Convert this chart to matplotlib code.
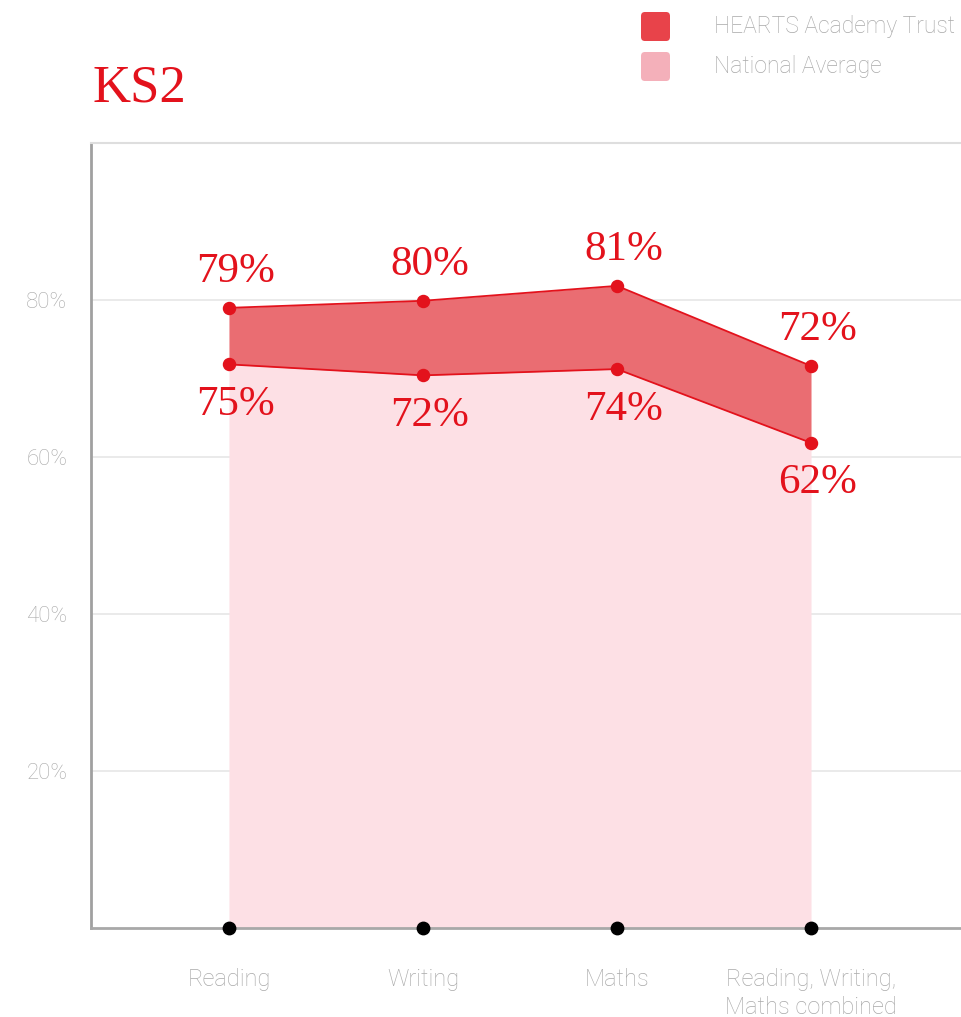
import matplotlib.pyplot as plt
from matplotlib.patches import FancyBboxPatch

# -----------------------------
# DATA
# -----------------------------
categories = ["Reading", "Writing", "Maths", "Reading, Writing,\nMaths combined"]
hearts_values = [79.0, 79.9, 81.8, 71.6]
national_values = [71.8, 70.4, 71.2, 61.8]
hearts_labels = ["79%", "80%", "81%", "72%"]
national_labels = ["75%", "72%", "74%", "62%"]
y_ticks = [20, 40, 60, 80]
y_tick_labels = ["20%", "40%", "60%", "80%"]

# -----------------------------
# COLOURS
# -----------------------------
RED = "#e3121c"
BAND = "#ea6d72"
PINK = "#fde0e5"
GREY_TEXT = "#a9a9a9"

fig = plt.figure(figsize=(9.61, 10.17), dpi=100)
fig.patch.set_facecolor("white")

ax = fig.add_axes([91 / 961, 89 / 1017, 1 - 91 / 961, 785 / 1017])

x = list(range(len(categories)))

# fills
ax.fill_between(x, 0, national_values, color=PINK, lw=0, zorder=1)
ax.fill_between(x, national_values, hearts_values, color=BAND, lw=0, zorder=2)

# lines + points
ax.plot(x, hearts_values, color=RED, lw=1.3, zorder=3)
ax.plot(x, national_values, color=RED, lw=1.3, zorder=3)
ax.scatter(x, hearts_values, s=75, color=RED, zorder=4)
ax.scatter(x, national_values, s=75, color=RED, zorder=4)
ax.scatter(x, [0] * len(x), s=80, color="black", zorder=5, clip_on=False)

# value labels
for xi, v, lab in zip(x, hearts_values, hearts_labels):
    ax.annotate(lab, (xi, v), xytext=(5, 26), textcoords="offset points",
                ha="center", va="center", fontsize=31, color=RED,
                family="Liberation Serif", zorder=6)
for xi, v, lab in zip(x, national_values, national_labels):
    ax.annotate(lab, (xi, v), xytext=(5, -29), textcoords="offset points",
                ha="center", va="center", fontsize=31, color=RED,
                family="Liberation Serif", zorder=6)

# axes styling
ax.set_xlim(-0.711, 3.773)
ax.set_ylim(0, 100)
ax.set_yticks(y_ticks)
ax.set_yticklabels(y_tick_labels)
ax.set_xticks(x)
ax.set_xticklabels(categories, linespacing=1.25)
ax.tick_params(axis="y", length=0, pad=17, labelsize=16, labelcolor=GREY_TEXT)
ax.tick_params(axis="x", length=0, pad=29, labelsize=17, labelcolor=GREY_TEXT)
for lab in ax.get_xticklabels() + ax.get_yticklabels():
    lab.set_family("Roboto")
    lab.set_fontweight("light")

ax.grid(axis="y", color="#e6e6e6", lw=1.2, zorder=0)
ax.set_axisbelow(True)
ax.spines["right"].set_visible(False)
ax.spines["top"].set_color("#dedede")
ax.spines["top"].set_linewidth(1.5)
ax.spines["left"].set_color("#a0a0a0")
ax.spines["left"].set_linewidth(2)
ax.spines["bottom"].set_color("#a8a8a8")
ax.spines["bottom"].set_linewidth(2)

# title
fig.text(93 / 961, 1 - 88 / 1017, "KS2", fontsize=38, color=RED,
         family="Liberation Serif", ha="left", va="center")

# legend (manual)
legend_items = [("HEARTS Academy Trust", "#e8434a", 27),
                ("National Average", "#f4b0ba", 67)]
for text, col, yc in legend_items:
    box = FancyBboxPatch((641 / 961, 1 - (yc + 14) / 1017), 29 / 961, 29 / 1017,
                         boxstyle="round,pad=0,rounding_size=0.004",
                         transform=fig.transFigure, facecolor=col,
                         edgecolor="none")
    fig.patches.append(box)
    fig.text(714 / 961, 1 - yc / 1017, text, fontsize=16.5, color=GREY_TEXT,
             family="Roboto", fontweight="light", ha="left", va="center")

fig.savefig("out.png", dpi=100)
